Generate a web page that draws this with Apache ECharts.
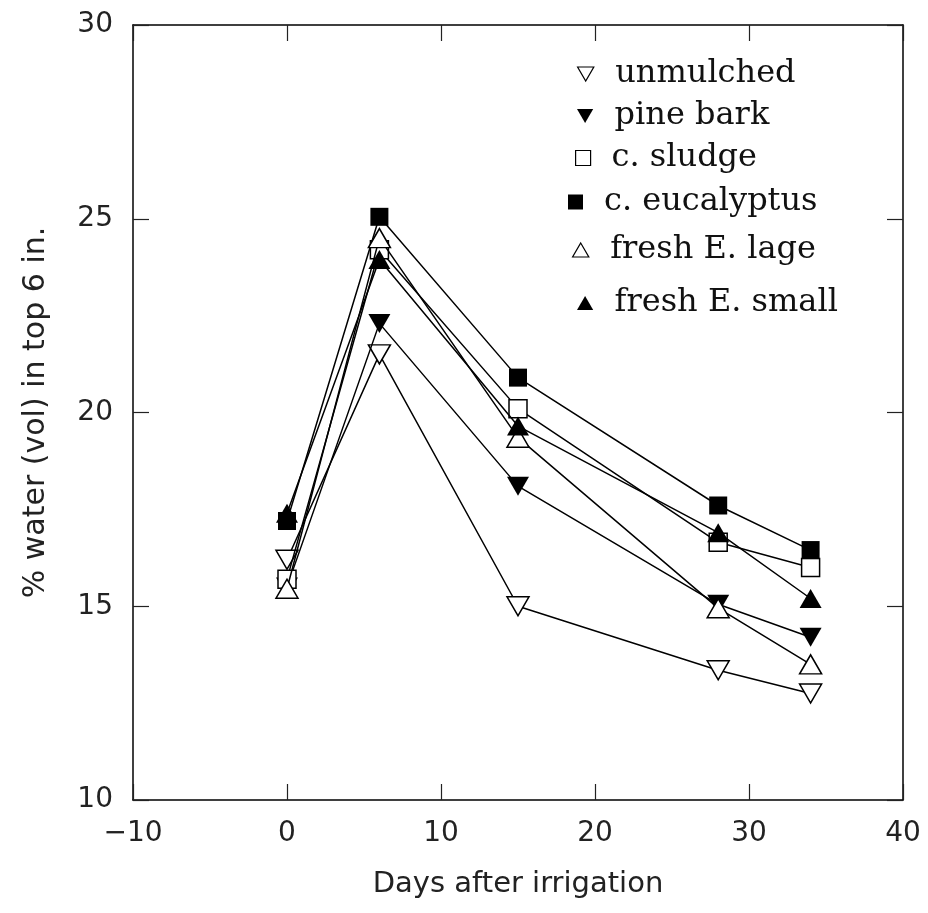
<!DOCTYPE html>
<html lang="en">
<head>
    <meta charset="utf-8">
    <title>Soil water after irrigation</title>
    <style>
        html, body { margin: 0; padding: 0; background: #fff; }
    </style>
</head>
<body>
    <div id="main" style="width:928px;height:913px;"></div>
    <script src="https://cdn.jsdelivr.net/npm/echarts@6/dist/echarts.min.js"></script>
    <script type="text/javascript">
        // data
        var days = [0, 6, 15, 28, 34];
        var seriesNames = ['unmulched', 'pine bark', 'c. sludge', 'c. eucalyptus', 'fresh E. lage', 'fresh E. small'];
        var unmulched   = [16.2, 21.5, 15.0, 13.35, 12.75];
        var pineBark    = [15.5, 22.3, 18.1, 15.05, 14.2];
        var cSludge     = [15.7, 24.2, 20.1, 16.65, 16.0];
        var cEucalyptus = [17.2, 25.05, 20.9, 17.6, 16.45];
        var freshLarge  = [15.45, 24.5, 19.35, 14.95, 13.5];
        var freshSmall  = [17.4, 23.95, 19.65, 16.9, 15.2];
        var xTicks = [-10, 0, 10, 20, 30, 40];
        var yTicks = [10, 15, 20, 25, 30];

        var values = [unmulched, pineBark, cSludge, cEucalyptus, freshLarge, freshSmall];

        var downTri = 'path://M0,0 L22,0 L11,19 Z';
        var upTri = 'path://M11,0 L22,19 L0,19 Z';
        // symbol, filled?, size
        var marks = [
            [downTri, false, [22, 19]],
            [downTri, true, [22, 19]],
            ['rect', false, 18],
            ['rect', true, 18],
            [upTri, false, [22, 19]],
            [upTri, true, [22, 19]]
        ];
        // legend row centres (px) and left edges
        var legendRows = [76, 118, 160, 204, 252, 305];
        var legendLeft = [577, 577, 575, 568, 572, 577];

        var myChart = echarts.init(document.getElementById('main'));

        var sansFont = 'DejaVu Sans';
        var serifFont = 'DejaVu Serif';

        var series = [];
        var legends = [];
        seriesNames.forEach(function (name, i) {
            var m = marks[i];
            var pts = days.map(function (d, j) { return [d, values[i][j]]; });
            series.push({
                name: name,
                type: 'line',
                data: pts,
                symbol: m[0],
                symbolSize: m[2],
                showAllSymbol: true,
                lineStyle: { color: '#000', width: 1.5 },
                itemStyle: {
                    color: m[1] ? '#000' : '#fff',
                    borderColor: '#000',
                    borderWidth: m[1] ? 0 : 1.5
                },
                emphasis: { disabled: true },
                z: 2 + i
            });
            var isRect = m[0] === 'rect';
            legends.push({
                orient: 'vertical',
                left: legendLeft[i],
                top: legendRows[i] - 18,
                padding: 0,
                itemWidth: isRect ? 15 : 17,
                itemHeight: isRect ? 15 : 14,
                selectedMode: false,
                data: [{
                    name: name,
                    icon: m[0],
                    itemStyle: {
                        color: m[1] ? '#000' : '#fff',
                        borderColor: '#000',
                        borderWidth: m[1] ? 0 : 1.2
                    }
                }],
                textStyle: {
                    fontFamily: serifFont,
                    fontSize: 32,
                    color: '#111',
                    padding: [0, 0, 0, 16]
                }
            });
        });

        var axisLine = { show: true, onZero: false, lineStyle: { color: '#000', width: 1.5 } };
        var tick = { show: true, inside: true, length: 16, lineStyle: { color: '#222', width: 1.2 } };

        var option = {
            animation: false,
            backgroundColor: '#fff',
            legend: legends,
            grid: { left: 133, right: 25, top: 25, bottom: 113, containLabel: false },
            xAxis: [{
                type: 'value',
                min: xTicks[0],
                max: xTicks[xTicks.length - 1],
                interval: 10,
                name: 'Days after irrigation',
                nameLocation: 'middle',
                nameGap: 70,
                nameTextStyle: { fontFamily: sansFont, fontSize: 29, color: '#222' },
                axisLine: axisLine,
                axisTick: tick,
                splitLine: { show: false },
                axisLabel: {
                    fontFamily: sansFont, fontSize: 28, color: '#222', margin: 20,
                    formatter: function (v) { return v < 0 ? '\u2212' + Math.abs(v) : String(v); }
                }
            }, {
                type: 'value',
                position: 'top',
                min: xTicks[0],
                max: xTicks[xTicks.length - 1],
                interval: 10,
                axisLine: axisLine,
                axisTick: tick,
                splitLine: { show: false },
                axisLabel: { show: false }
            }],
            yAxis: [{
                type: 'value',
                min: yTicks[0],
                max: yTicks[yTicks.length - 1],
                interval: 5,
                name: '% water (vol) in top 6 in.',
                nameLocation: 'middle',
                nameGap: 82,
                nameTextStyle: { fontFamily: sansFont, fontSize: 30, color: '#222' },
                axisLine: axisLine,
                axisTick: tick,
                splitLine: { show: false },
                axisLabel: { fontFamily: sansFont, fontSize: 28, color: '#222', margin: 20 }
            }, {
                type: 'value',
                position: 'right',
                min: yTicks[0],
                max: yTicks[yTicks.length - 1],
                interval: 5,
                axisLine: axisLine,
                axisTick: tick,
                splitLine: { show: false },
                axisLabel: { show: false }
            }],
            series: series
        };
        myChart.setOption(option);
    </script>
</body>
</html>
